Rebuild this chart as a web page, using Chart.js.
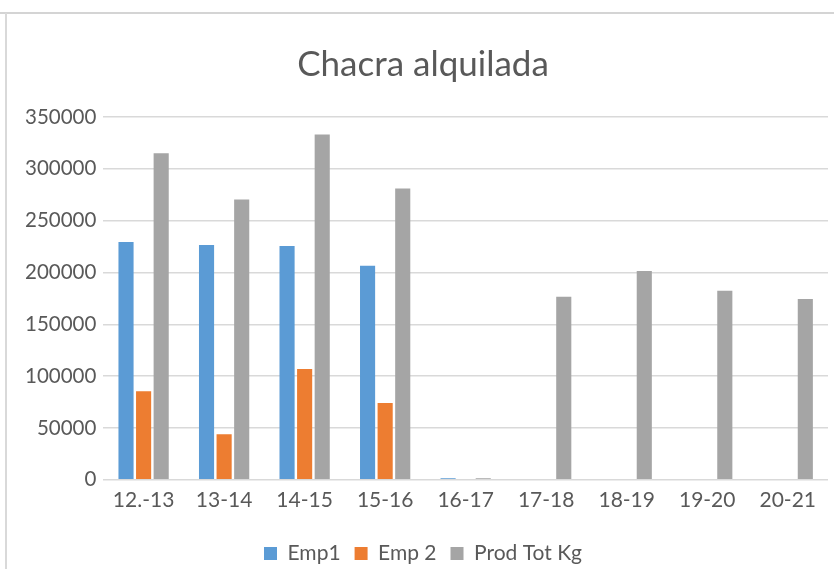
<!DOCTYPE html>
<html>
<head>
<meta charset="utf-8">
<script src="https://cdn.jsdelivr.net/npm/chart.js@4"></script>
<style>
  html, body { margin: 0; padding: 0; background: #fff; }
  #wrap { position: relative; width: 834px; height: 569px; overflow: hidden; }
  #frame-top { position: absolute; left: 0; top: 12px; width: 834px; height: 2px; background: #d4d4d4; }
  #frame-left { position: absolute; left: 5px; top: 13px; width: 2px; height: 556px; background: #d9d9d9; }
  canvas { position: absolute; left: 0; top: 0; }
</style>
</head>
<body>
<div id="wrap">
  <canvas id="chart" width="834" height="569"></canvas>
  <div id="frame-top"></div>
  <div id="frame-left"></div>
</div>
<script>
// --- DATA ---
const seasons = ["12.-13", "13-14", "14-15", "15-16", "16-17", "17-18", "18-19", "19-20", "20-21"];
const emp1 = [229500, 226500, 225500, 206500, 1500, 0, 0, 0, 0];
const emp2 = [85500, 44000, 107000, 74000, 0, 0, 0, 0, 0];
const prodTotKg = [315000, 270500, 333000, 281000, 1500, 176500, 201500, 182500, 174500];
const yTicks = [0, 50000, 100000, 150000, 200000, 250000, 300000, 350000];

const TEXT_COLOR = '#595959';
const FONT = 'Lato, "Open Sans", sans-serif';

const barStyle = { categoryPercentage: 0.655, barPercentage: 0.86 };

new Chart(document.getElementById("chart"), {
    type: "bar",
    data: {
        labels: seasons,
        datasets: [
            { label: "Emp1", data: emp1, backgroundColor: '#5b9bd5', ...barStyle },
            { label: "Emp 2", data: emp2, backgroundColor: '#ed7d31', ...barStyle },
            { label: "Prod Tot Kg", data: prodTotKg, backgroundColor: '#a5a5a5', ...barStyle }
        ]
    },
    options: {
        animation: false,
        responsive: false,
        layout: { padding: { left: 18, right: 6, top: 44, bottom: -5 } },
        scales: {
            x: {
                grid: { display: false },
                border: { display: false },
                ticks: { color: TEXT_COLOR, font: { family: FONT, size: 21 }, padding: 0, maxRotation: 0 },
                afterFit: (axis) => { axis.height += 16; }
            },
            y: {
                min: 0,
                max: 350000,
                afterBuildTicks: (axis) => { axis.ticks = yTicks.map(v => ({ value: v })); },
                grid: { color: '#d9d9d9', lineWidth: 1.5, drawTicks: false },
                border: { display: false },
                ticks: {
                    color: TEXT_COLOR,
                    font: { family: FONT, size: 20.5 },
                    padding: 7,
                    callback: (v) => String(v)
                }
            }
        },
        plugins: {
            title: {
                display: true,
                text: "Chacra alquilada",
                color: TEXT_COLOR,
                font: { family: FONT, size: 35, weight: 'normal' },
                padding: { top: 0, bottom: 31 }
            },
            legend: {
                position: 'bottom',
                labels: {
                    color: TEXT_COLOR,
                    font: { family: FONT, size: 21 },
                    boxWidth: 13,
                    boxHeight: 13,
                    padding: 14
                }
            },
            tooltip: { enabled: false }
        }
    }
});
</script>
</body>
</html>
